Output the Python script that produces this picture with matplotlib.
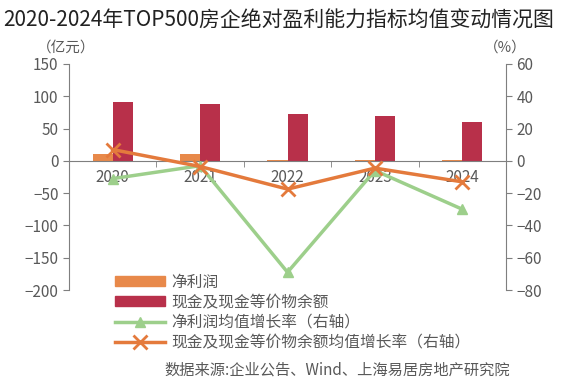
import matplotlib.pyplot as plt
import numpy as np
from matplotlib.lines import Line2D
from matplotlib.patches import Patch

plt.rcParams['font.family'] = ['Noto Sans CJK SC', 'DejaVu Sans']

years = ['2020', '2021', '2022', '2023', '2024']
net_profit = [10.5, 10.5, 2, 2, 0.8]
cash = [91, 88, 72, 69, 60]
profit_growth = [-11, -3, -69, -6, -30]
cash_growth = [7, -3.5, -17.5, -4.5, -13]

c_orange = '#E8894A'
c_red = '#B8304A'
c_green = '#9DCF8B'
c_line = '#E47A3C'
gray = '#7f7f7f'
txt = '#595959'

fig = plt.figure(figsize=(5.64, 3.8), dpi=100)
ax = fig.add_axes([0.1223, 0.2368, 0.775, 0.5948])
ax2 = ax.twinx()

x = np.arange(len(years))
w = 0.23
ax.bar(x - w / 2, net_profit, w, color=c_orange, zorder=2)
ax.bar(x + w / 2, cash, w, color=c_red, zorder=2)
ax.set_xlim(-0.5, len(years) - 0.5)
ax.set_ylim(-200, 150)
ax.set_yticks(range(-200, 151, 50))

ax2.plot(x, profit_growth, color=c_green, lw=2.5, marker='^', ms=7, zorder=3)
ax2.plot(x, cash_growth, color=c_line, lw=2.5, marker='x', ms=10, mew=2, zorder=4)
ax2.set_ylim(-80, 60)
ax2.set_yticks(range(-80, 61, 20))

for a in (ax, ax2):
    a.spines['top'].set_visible(False)
    for s in ('left', 'right', 'bottom'):
        a.spines[s].set_color(gray)
    a.tick_params(axis='y', colors=gray, labelcolor=txt, labelsize=11, length=4)
ax2.spines['bottom'].set_visible(False)
ax.spines['bottom'].set_position(('data', 0))
ax.spines['right'].set_visible(False)
ax2.spines['left'].set_visible(False)

ax.set_xticks(x)
ax.set_xticklabels(years)
ax.tick_params(axis='x', length=0, labelsize=11, labelcolor=txt, pad=6)
ax.set_xticks(np.arange(0.5, len(years) - 1, 1), minor=True)
ax.tick_params(axis='x', which='minor', length=4, color=gray)

fig.text(0.005, 0.975, '2020-2024年TOP500房企绝对盈利能力指标均值变动情况图',
         fontsize=15, color='#222222', va='top', ha='left')
fig.text(0.118, 0.875, '（亿元）', fontsize=10.5, color=txt, ha='center', va='center')
fig.text(0.895, 0.875, '（%）', fontsize=10.5, color=txt, ha='center', va='center')

handles = [
    Patch(color=c_orange),
    Patch(color=c_red),
    Line2D([], [], color=c_green, lw=2.5, marker='^', ms=7),
    Line2D([], [], color=c_line, lw=2.5, marker='x', ms=10, mew=2),
]
labels = ['净利润', '现金及现金等价物余额', '净利润均值增长率（右轴）',
          '现金及现金等价物余额均值增长率（右轴）']
leg = fig.legend(handles, labels, loc='upper left', bbox_to_anchor=(0.19, 0.3),
                 frameon=False, fontsize=11.3, handlelength=3.2, handleheight=0.6,
                 labelspacing=0.2, borderpad=0, handletextpad=0.4)
for t in leg.get_texts():
    t.set_color(txt)

fig.text(0.292, 0.026, '数据来源:企业公告、Wind、上海易居房地产研究院',
         fontsize=11, color=txt, ha='left', va='center')

fig.savefig('out.png', dpi=100)
